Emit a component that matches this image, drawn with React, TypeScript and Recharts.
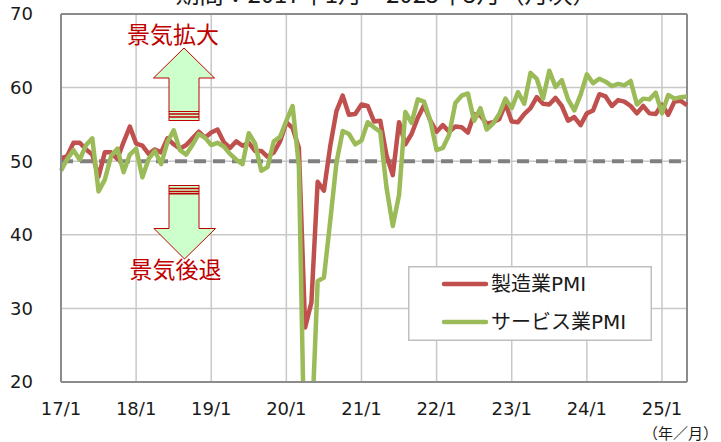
import React from "react";
import {
  LineChart,
  Line,
  XAxis,
  YAxis,
  CartesianGrid,
  ReferenceLine,
  Legend,
} from "recharts";

// 2017/1 - 2025/5, monthly
const yearLabels = ["17/1", "18/1", "19/1", "20/1", "21/1", "22/1", "23/1", "24/1", "25/1"];

const manufacturing = [
  50.4, 50.7, 52.5, 52.5, 51.6, 50.9, 47.9, 51.2, 51.2, 50.3, 52.6, 54.7,
  52.4, 52.1, 51.0, 51.6, 51.2, 53.1, 52.3, 51.7, 52.2, 53.1, 54.0, 53.2,
  53.9, 54.3, 52.6, 51.8, 52.7, 52.1, 52.5, 51.4, 51.4, 50.6, 51.2, 52.7,
  55.3, 54.5, 51.8, 27.4, 30.8, 47.2, 46.0, 52.0, 56.8, 58.9, 56.3, 56.4,
  57.7, 57.5, 55.4, 55.5, 50.8, 48.1, 55.3, 52.3, 53.7, 55.9, 57.6, 55.5,
  54.0, 54.9, 54.0, 54.7, 54.6, 53.9, 56.4, 56.2, 55.1, 55.3, 55.7, 57.8,
  55.4, 55.3, 56.4, 57.2, 58.7, 57.8, 57.7, 58.6, 57.5, 55.5, 56.0, 54.9,
  56.5, 56.9, 59.1, 58.8, 57.5, 58.3, 58.1, 57.5, 56.5, 57.5, 56.5, 56.4,
  57.7, 56.3, 58.1, 58.2, 57.6,
];

const services = [
  48.7, 50.3, 51.5, 50.2, 52.2, 53.1, 45.9, 47.5, 50.7, 51.7, 48.5, 50.9,
  51.7, 47.8, 50.3, 51.4, 49.6, 52.6, 54.2, 51.5, 50.9, 52.2, 53.7, 53.2,
  52.2, 52.5, 52.0, 51.0, 50.2, 49.6, 53.8, 52.4, 48.7, 49.2, 52.7, 53.3,
  55.5, 57.5, 49.3, 5.4, 12.6, 33.7, 34.2, 41.8, 49.8, 54.1, 53.7, 52.3,
  52.8, 55.3, 54.6, 54.0, 46.4, 41.2, 45.4, 56.7, 55.2, 58.4, 58.1, 55.5,
  51.5, 51.8, 53.6, 57.9, 58.9, 59.2, 55.5, 57.2, 54.3, 55.1, 56.4, 58.5,
  57.2, 59.4, 57.8, 62.0, 61.2, 58.5, 62.3, 60.1, 61.0, 58.4, 56.9, 59.0,
  61.8, 60.6, 61.2, 60.8, 60.2, 60.5, 60.3, 60.9, 57.7, 58.5, 58.4, 59.3,
  56.5, 59.0, 58.5, 58.7, 58.8,
];

const yTicks = [20, 30, 40, 50, 60, 70];

const data = manufacturing.map((v, i) => ({ idx: i, mfg: v, svc: services[i] }));
const xTicks = yearLabels.map((_, i) => i * 12);

const RED = "#C0504D";
const GREEN = "#9BBB59";
const DARK_RED = "#C00000";
const FONT = "'DejaVu Sans', 'Noto Sans CJK JP', sans-serif";
const JP = "'Noto Sans CJK JP', sans-serif";

function LegendBox() {
  return (
    <svg width={244} height={75} style={{ display: "block" }}>
      <rect x={0.75} y={0.75} width={242.5} height={73.5} fill="#fff" stroke="#BFBFBF" strokeWidth={1.5} />
      <line x1={36} y1={18} x2={78} y2={18} stroke={RED} strokeWidth={4.5} strokeLinecap="round" />
      <text x={83} y={18} dy="0.36em" fontSize={20} fontFamily={FONT} fill="#1a1a1a">
        製造業PMI
      </text>
      <line x1={36} y1={56} x2={78} y2={56} stroke={GREEN} strokeWidth={4.5} strokeLinecap="round" />
      <text x={83} y={56} dy="0.36em" fontSize={20} fontFamily={FONT} fill="#1a1a1a">
        サービス業PMI
      </text>
    </svg>
  );
}

function Overlay() {
  return (
    <svg
      width={721}
      height={442}
      style={{ position: "absolute", left: 0, top: 0, pointerEvents: "none" }}
    >
      <text x={386} y={3} textAnchor="middle" fontSize={24} fontFamily={JP} fill="#1a1a1a">
        期間：2017年1月～2025年5月（月次）
      </text>

      {/* 景気拡大 */}
      <text x={173} y={43} textAnchor="middle" fontSize={23} fontFamily={JP} fill={DARK_RED}>
        景気拡大
      </text>
      <polygon
        points="184,48 214.5,78 199,78 199,111.5 169,111.5 169,78 153.5,78"
        fill="#CCFFCC"
        stroke={DARK_RED}
        strokeWidth={1}
      />
      <rect x={169} y={111.5} width={30} height={9} fill="#CCFFCC" stroke={DARK_RED} strokeWidth={1} />
      <line x1={169} y1={114} x2={199} y2={114} stroke={DARK_RED} strokeWidth={1.5} />
      <line x1={169} y1={117} x2={199} y2={117} stroke={DARK_RED} strokeWidth={1.5} />

      {/* 景気後退 */}
      <rect x={169} y={185.5} width={30} height={8} fill="#CCFFCC" stroke={DARK_RED} strokeWidth={1} />
      <line x1={169} y1={188.5} x2={199} y2={188.5} stroke={DARK_RED} strokeWidth={1.5} />
      <line x1={169} y1={191.5} x2={199} y2={191.5} stroke={DARK_RED} strokeWidth={1.5} />
      <polygon
        points="169,194 199,194 199,228.5 215.5,228.5 184.5,259 154,228.5 169,228.5"
        fill="#CCFFCC"
        stroke={DARK_RED}
        strokeWidth={1}
      />
      <text x={175.5} y={278} textAnchor="middle" fontSize={23} fontFamily={JP} fill={DARK_RED}>
        景気後退
      </text>

      <text x={643} y={439} fontSize={15} fontFamily={JP} fill="#1a1a1a">
        （年／月）
      </text>
    </svg>
  );
}

export default function App() {
  return (
    <div style={{ position: "absolute", left: 0, top: 0, width: 721, height: 442, background: "#fff" }}>
      <LineChart
        width={721}
        height={442}
        data={data}
        margin={{ top: 14, right: 34, bottom: 30, left: 0 }}
      >
        <CartesianGrid stroke="#C8C8C8" strokeWidth={1.5} />
        <XAxis
          type="number"
          dataKey="idx"
          domain={[0, 100]}
          ticks={xTicks}
          tickFormatter={(v: number) => yearLabels[v / 12]}
          height={30}
          tickSize={0}
          tickMargin={20}
          axisLine={{ stroke: "#8C8C8C", strokeWidth: 2 }}
          tick={{ fontSize: 18, fill: "#1a1a1a", fontFamily: FONT }}
          interval={0}
        />
        <YAxis
          type="number"
          domain={[20, 70]}
          ticks={yTicks}
          allowDataOverflow
          width={61}
          tickSize={0}
          tickMargin={28}
          axisLine={{ stroke: "#8C8C8C", strokeWidth: 2 }}
          tick={{ fontSize: 18, fill: "#1a1a1a", fontFamily: FONT }}
          interval={0}
        />
        <ReferenceLine y={70} stroke="#8C8C8C" strokeWidth={2} />
        <ReferenceLine x={100} stroke="#8C8C8C" strokeWidth={2} />
        <ReferenceLine y={50} stroke="#808080" strokeWidth={4} strokeDasharray="12 7" />
        <Line
          type="linear"
          dataKey="mfg"
          name="製造業PMI"
          stroke={RED}
          strokeWidth={4.5}
          dot={false}
          strokeLinejoin="round"
          isAnimationActive={false}
        />
        <Line
          type="linear"
          dataKey="svc"
          name="サービス業PMI"
          stroke={GREEN}
          strokeWidth={4.5}
          dot={false}
          strokeLinejoin="round"
          isAnimationActive={false}
        />
        <Legend
          layout="horizontal"
          verticalAlign="middle"
          align="center"
          content={() => <LegendBox />}
          wrapperStyle={{ position: "absolute", left: 408, top: 266, width: 244, height: 75 }}
        />
      </LineChart>
      <Overlay />
    </div>
  );
}
